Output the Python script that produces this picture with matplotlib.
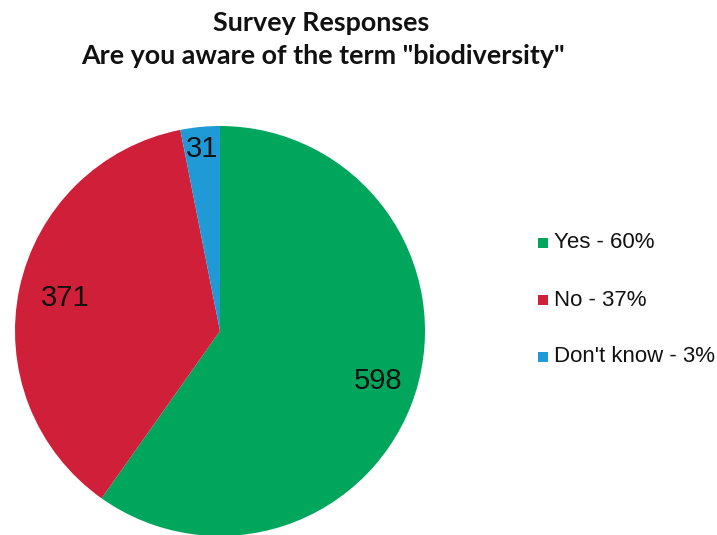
import matplotlib
matplotlib.use("Agg")
import matplotlib.pyplot as plt
import numpy as np

title_lines = ["Survey Responses", 'Are you aware of the term "biodiversity"']
categories = ["Yes", "No", "Don't know"]
counts = [598, 371, 31]
percents = [60, 37, 3]
colors = ["#00A65B", "#D01F38", "#1F9AD7"]

W, H = 717, 535
fig = plt.figure(figsize=(W / 100, H / 100), dpi=100)
ax = fig.add_axes([0, 0, 1, 1])

cx, cy, r = 220, H - 331, 205
wedges, _ = ax.pie(counts, colors=colors, startangle=90, counterclock=False,
                   center=(cx, cy), radius=r, frame=True,
                   wedgeprops=dict(linewidth=0))
ax.set_xlim(0, W)
ax.set_ylim(0, H)
ax.axis("off")

renderer = fig.canvas.get_renderer()


def fit(t, target_px):
    bb = t.get_window_extent(renderer=renderer)
    t.set_fontsize(t.get_fontsize() * target_px / bb.width)


label_dist = [0.81, 0.77, 0.89]
for w, c, d in zip(wedges, counts, label_dist):
    ang = np.deg2rad((w.theta1 + w.theta2) / 2)
    ax.text(cx + d * r * np.cos(ang), cy + d * r * np.sin(ang), str(c),
            ha="center", va="center", fontsize=21, family="Liberation Sans",
            color="#111111")

t1 = fig.text(321 / W, 1 - 31 / H, title_lines[0], ha="center", va="baseline",
              fontsize=18, fontweight="bold", family="Lato", color="#111111")
t2 = fig.text(322.5 / W, 1 - 64 / H, title_lines[1], ha="center", va="baseline",
              fontsize=18, fontweight="bold", family="Lato", color="#111111")
fit(t2, 485)
t1.set_fontsize(t2.get_fontsize())

leg_y = [243, 300, 357]
leg_texts = []
for cat, p, col, y in zip(categories, percents, colors, leg_y):
    ax.scatter([542.5], [H - y], marker="s", s=48, color=col, linewidths=0)
    leg_texts.append(ax.text(554, H - y, f"{cat} - {p}%", ha="left", va="center",
                             fontsize=16, family="Liberation Sans", color="#111111"))
fit(leg_texts[2], 161)
for t in leg_texts[:2]:
    t.set_fontsize(leg_texts[2].get_fontsize())

fig.savefig("out.png", dpi=100)
